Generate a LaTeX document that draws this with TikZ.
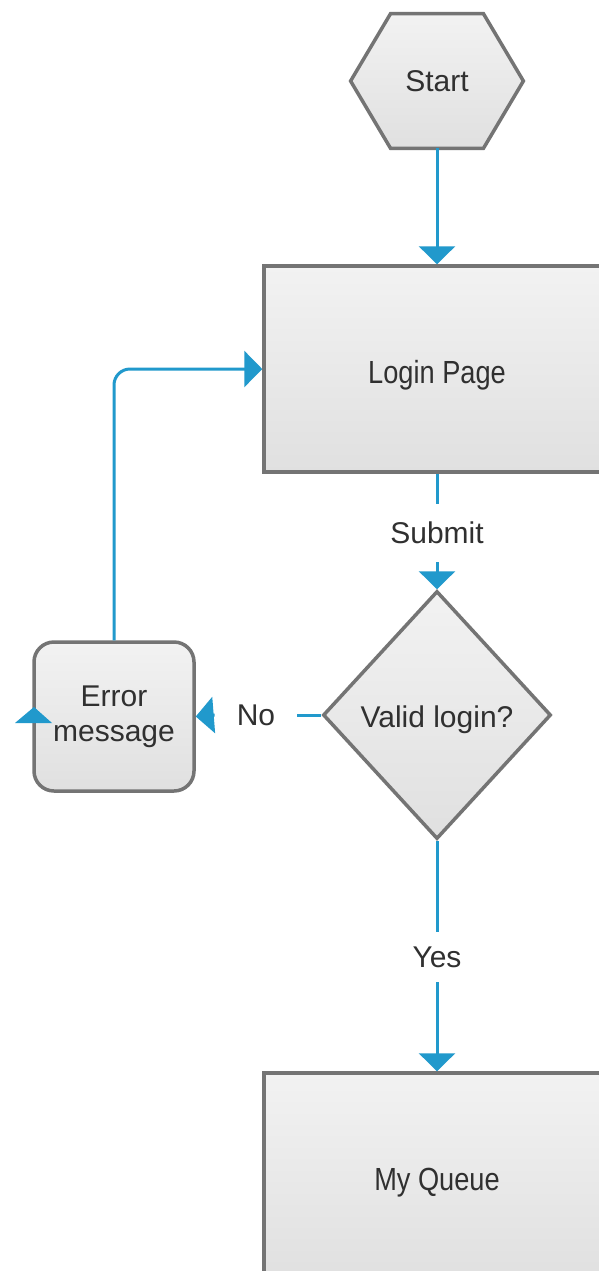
\documentclass[tikz,border=0pt]{standalone}
\usepackage{fontspec}
\setmainfont{Liberation Sans}
\newfontfamily\condfont[FakeStretch=0.85]{Liberation Sans}
\usetikzlibrary{shapes.geometric,arrows.meta,calc}
\definecolor{flowblue}{HTML}{2199CC}
\definecolor{boxedge}{HTML}{747474}
\definecolor{txtgray}{HTML}{303030}
\definecolor{fillhi}{HTML}{F2F2F2}
\definecolor{filllo}{HTML}{E0E0E0}
\tikzset{
  boxstyle/.style={draw=boxedge, line width=1.75pt, top color=fillhi, bottom color=filllo},
  lbl/.style={text=txtgray, font=\fontsize{15pt}{17.5pt}\selectfont, inner sep=0pt},
  condlbl/.style={text=txtgray, font=\condfont\fontsize{16pt}{19pt}\selectfont, text height=17.5pt, text depth=3.3pt},
  flowline/.style={draw=flowblue, line width=1.5pt},
  conn/.style={flowline, -{Triangle[width=18pt,length=9pt]}},
}
\begin{document}
\begin{tikzpicture}[x=0.5pt,y=-0.5pt]
\useasboundingbox (0,0) rectangle (599,1271);
\clip (0,0) rectangle (599,1271);
\fill[white] (0,0) rectangle (599,1271);

% Start hexagon
\node[minimum width=86pt, minimum height=67pt, inner sep=0pt] (start) at (437,81) {};
\path[boxstyle] ($(start.north west)+(40,0)$) -- ($(start.north east)+(-40,0)$) -- (start.east)
  -- ($(start.south east)+(-40,0)$) -- ($(start.south west)+(40,0)$) -- (start.west) -- cycle;
\node[lbl] at (start) {Start};

% Login page
\node[boxstyle, rectangle, minimum width=173pt, minimum height=103pt, condlbl] (login) at (437,369) {Login Page};

% Submit label
\node[lbl, minimum height=29pt] (submit) at (437,533) {Submit};

% Decision
\node[boxstyle, diamond, inner sep=0pt, minimum width=114pt, minimum height=124pt, lbl, text height=15.9pt, text depth=3.2pt] (valid) at (437,715) {Valid login?};

% No label
\node[lbl, minimum width=41pt] (no) at (256,715) {No};

% Error message
\node[boxstyle, rectangle, rounded corners=10pt, minimum width=80pt, minimum height=74.5pt, lbl, align=center] (error) at (114,716.5) {Error\\message};

% Yes label
\node[lbl, minimum height=25pt] (yes) at (437,957) {Yes};

% My Queue
\node[boxstyle, rectangle, minimum width=173pt, minimum height=103pt, condlbl] (queue) at (437,1176) {My Queue};

% Connectors
\draw[conn] (start.south) -- (login.north);
\draw[flowline] (login.south) -- (submit.north);
\draw[conn] (submit.south) -- (valid.north);
\draw[flowline] (valid.west) -- (no.east);
\draw[conn] (no.west) -- (error.east);
\draw[conn, rounded corners=8pt] (error.north) |- (login.west);
\draw[flowline] (valid.south) -- (yes.north);
\draw[conn] (yes.south) -- (queue.north);

% stray arrowhead at left of error box
\fill[flowblue] (15,723) -- (52,723) -- (34,707) -- cycle;
\end{tikzpicture}
\end{document}
